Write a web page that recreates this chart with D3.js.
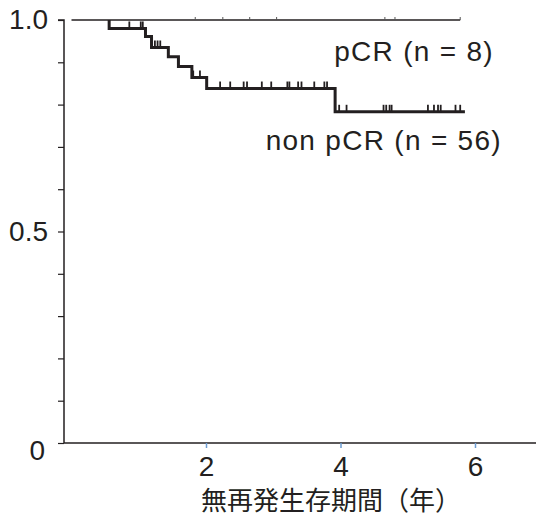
<!DOCTYPE html>
<html>
<head>
<meta charset="utf-8">
<script src="https://cdn.jsdelivr.net/npm/d3@7"></script>
<style>
  body { margin: 0; background: #fff; }
  text { font-family: "Liberation Sans", Arial, sans-serif; fill: #231f20; }
</style>
</head>
<body>
<svg id="canvas" width="536" height="520"></svg>
<script>
// non pCR curve: step times (years) and survival after each step
let stepTimes  = [0.56, 1.10, 1.19, 1.44, 1.59, 1.79, 2.01, 3.92]
let stepValues = [0.980, 0.961, 0.935, 0.913, 0.890, 0.864, 0.838, 0.783]
let nonEnd = 5.85
// censored times for non pCR
let nonCensor = [0.86, 1.03, 1.06, 1.24, 1.28, 1.32, 1.81, 1.91,
                 2.21, 2.36, 2.56, 2.61, 2.83, 2.97, 3.21, 3.24, 3.37, 3.42, 3.61, 3.76, 3.80,
                 3.98, 4.09, 4.64, 4.68, 4.73, 4.76, 5.30, 5.39, 5.45, 5.49, 5.71, 5.78]
// pCR curve stays at 1.0
let pcrEnd = 5.78
let pcrCensor = [1.84, 2.25, 2.65, 3.05, 4.66, 4.81, 5.78]

let xTicks = [2, 4, 6]
let yTicks = [0, 0.1, 0.2, 0.3, 0.4, 0.5, 0.6, 0.7, 0.8, 0.9, 1.0]
let yLabels = {0: '0', 0.5: '0.5', 1: '1.0'}

let canvas = d3.select('#canvas')
let x = d3.scaleLinear().domain([0, 7]).range([71.5, 542.25])
let y = d3.scaleLinear().domain([0, 1]).range([443, 20])
let axisX0 = 64

// x axis line
canvas.append('line')
    .attr('x1', axisX0).attr('x2', 536)
    .attr('y1', y(0)).attr('y2', y(0))
    .attr('stroke', '#231f20').attr('stroke-width', 1.5)

let xAxis = canvas.append('g')
    .attr('transform', `translate(0,${y(0)})`)
    .call(d3.axisBottom(x).tickValues(xTicks).tickSize(5).tickPadding(8).tickFormat(d3.format('d')))
xAxis.select('.domain').remove()
xAxis.selectAll('line').attr('stroke', '#6b9bd1').attr('stroke-width', 1.5)
xAxis.selectAll('text').attr('font-size', 28).attr('dy', '0.72em')
    .style('font-family', '"Liberation Sans", Arial, sans-serif').attr('fill', '#231f20')

let yAxis = canvas.append('g')
    .attr('transform', `translate(${axisX0},0)`)
    .call(d3.axisLeft(y).tickValues(yTicks).tickSize(6).tickPadding(10)
        .tickFormat(d => yLabels[d] !== undefined ? yLabels[d] : ''))
yAxis.select('.domain').attr('stroke', '#231f20').attr('stroke-width', 1.5)
    .attr('d', `M-6,${y(1)}H0V${y(0)}`)
yAxis.selectAll('line').attr('stroke', '#231f20').attr('stroke-width', 1.2)
yAxis.selectAll('text').attr('font-size', 28)
    .style('font-family', '"Liberation Sans", Arial, sans-serif').attr('fill', '#231f20')
yAxis.selectAll('text').filter(d => d === 0).attr('dy', '0.6em').attr('x', -19)

// pCR line
canvas.append('line')
    .attr('x1', x(0)).attr('x2', x(pcrEnd))
    .attr('y1', y(1)).attr('y2', y(1))
    .attr('stroke', '#231f20').attr('stroke-width', 1.5)
canvas.selectAll('.pcr-censor')
    .data(pcrCensor)
    .enter()
    .append('line')
    .attr('class', 'pcr-censor')
    .attr('x1', d => x(d)).attr('x2', d => x(d))
    .attr('y1', y(1)).attr('y2', y(1) - 3)
    .attr('stroke', '#555').attr('stroke-width', 1)

// non pCR step curve
let pts = [[stepTimes[0], 1]]
stepTimes.forEach((t, i) => pts.push([t, stepValues[i]]))
pts.push([nonEnd, stepValues[stepValues.length - 1]])
let line = d3.line().x(d => x(d[0])).y(d => y(d[1])).curve(d3.curveStepAfter)
canvas.append('path')
    .attr('d', line(pts))
    .attr('fill', 'none')
    .attr('stroke', '#231f20')
    .attr('stroke-width', 3)

let survAt = (t) => {
    let s = 1
    stepTimes.forEach((st, i) => { if (st <= t) s = stepValues[i] })
    return s
}
canvas.selectAll('.non-censor')
    .data(nonCensor)
    .enter()
    .append('line')
    .attr('class', 'non-censor')
    .attr('x1', d => x(d)).attr('x2', d => x(d))
    .attr('y1', d => y(survAt(d)) + 1).attr('y2', d => y(survAt(d)) - 7)
    .attr('stroke', '#231f20').attr('stroke-width', 1.8)

// labels
canvas.append('text')
    .attr('x', 494).attr('y', 61)
    .attr('text-anchor', 'end')
    .attr('font-size', 28).style('letter-spacing', '1.3px')
    .text('pCR (n = 8)')
canvas.append('text')
    .attr('x', 502).attr('y', 150)
    .attr('text-anchor', 'end')
    .attr('font-size', 28).style('letter-spacing', '1.3px')
    .text('non pCR (n = 56)')

canvas.append('text')
    .attr('x', 331).attr('y', 510)
    .attr('text-anchor', 'middle')
    .attr('font-size', 26)
    .style('font-family', '"Noto Sans CJK JP", sans-serif')
    .text('無再発生存期間（年）')
</script>
</body>
</html>
